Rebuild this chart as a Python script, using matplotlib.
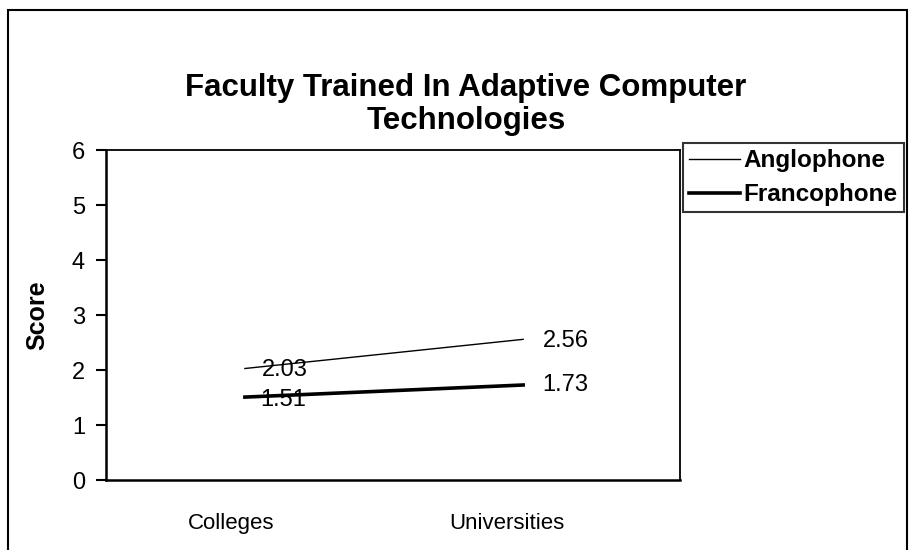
import matplotlib.pyplot as plt
from matplotlib.patches import Rectangle

plt.rcParams['font.family'] = ['Liberation Sans', 'DejaVu Sans']

# Данные
categories = ['Colleges', 'Universities']
anglophone = [2.03, 2.56]
francophone = [1.51, 1.73]

fig = plt.figure(figsize=(9.12, 5.5), dpi=100)
ax = fig.add_axes([0.116, 0.127, 0.63, 0.6])

x = range(len(categories))
ax.plot(x, anglophone, color='black', lw=1.0, label='Anglophone')
ax.plot(x, francophone, color='black', lw=2.6, label='Francophone')

# подписи значений
ax.text(0.06, anglophone[0] - 0.03, f'{anglophone[0]:.2f}', fontsize=17, va='center', ha='left')
ax.text(0.055, francophone[0] - 0.05, f'{francophone[0]:.2f}', fontsize=17, va='center', ha='left')
ax.text(1.07, anglophone[1] - 0.03, f'{anglophone[1]:.2f}', fontsize=17, va='center', ha='left')
ax.text(1.07, francophone[1], f'{francophone[1]:.2f}', fontsize=17, va='center', ha='left')

ax.set_xlim(-0.5, 1.565)
ax.set_ylim(0, 6)
ax.set_yticks(range(7))
ax.set_xticks([-0.05, 0.94])
ax.set_xticklabels(categories)
ax.tick_params(axis='x', length=0, pad=24, labelsize=16)
ax.tick_params(axis='y', direction='out', length=7, width=1.5, pad=8, labelsize=17)
for s in ax.spines.values():
    s.set_linewidth(1.3)
ax.spines['left'].set_linewidth(1.8)
ax.spines['bottom'].set_linewidth(1.8)
ax.set_ylabel('Score', fontsize=18, fontweight='bold', labelpad=16)

fig.text(0.511, 0.81, 'Faculty Trained In Adaptive Computer\nTechnologies',
         ha='center', va='center', fontsize=22.5, fontweight='bold', linespacing=1.1)

leg = fig.legend(loc='upper left', bbox_to_anchor=(0.749, 0.74),
                 prop={'weight': 'bold', 'size': 17.5}, frameon=True, fancybox=False,
                 edgecolor='black', handlelength=2.1, handletextpad=0.15,
                 borderpad=0.25, borderaxespad=0, labelspacing=0.45)
leg.get_frame().set_linewidth(1.5)

# внешняя рамка
fig.patches.append(Rectangle((0.009, -0.01), 0.985, 0.992, transform=fig.transFigure,
                             fill=False, edgecolor='black', lw=1.5))

fig.savefig('out.png', dpi=100)
